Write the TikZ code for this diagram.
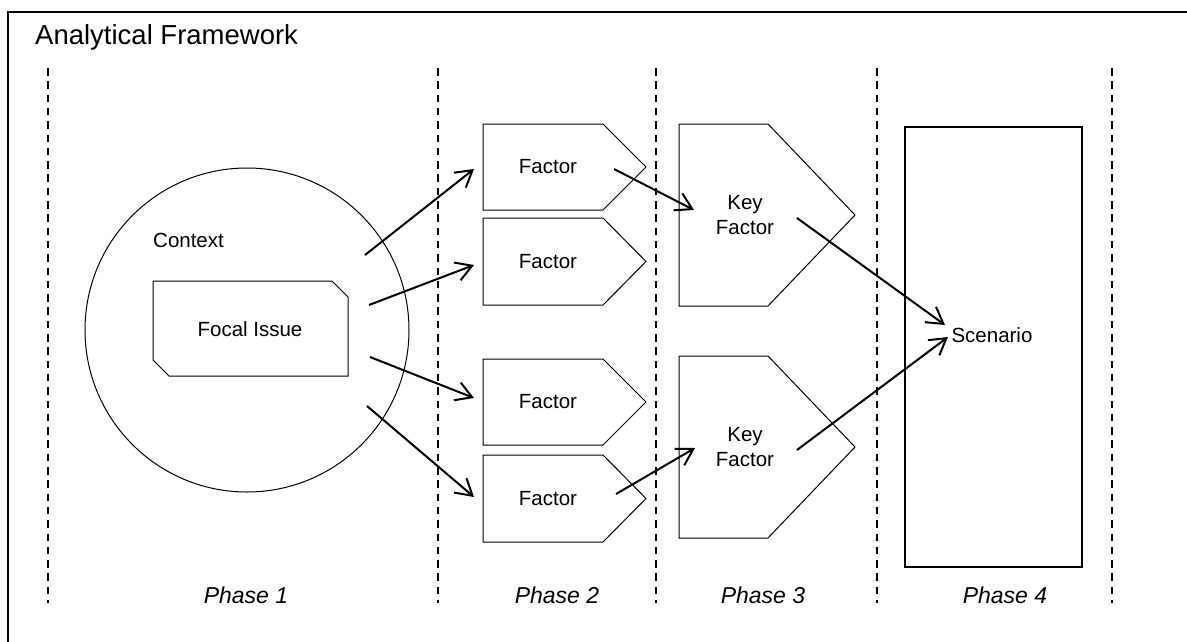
\documentclass[tikz,border=0pt]{standalone}
\usepackage{fontspec}
\setmainfont{Liberation Sans}
\usetikzlibrary{arrows.meta}
\begin{document}
\begin{tikzpicture}[x=1pt,y=-1pt,
  outline/.style={draw=black, line width=1pt, line join=miter},
  phaserule/.style={draw=black, line width=2pt, dash pattern=on 7.5pt off 5.8pt},
  flow/.style={draw=black, line width=2pt,
    -{Straight Barb[length=16pt,width=19pt]}},
  boxlabel/.style={font=\fontsize{20.5}{25}\selectfont, align=center, inner sep=0pt},
  phaselabel/.style={font=\fontsize{23}{27}\selectfont\itshape, anchor=base, inner sep=0pt},
]
\useasboundingbox (0,0) rectangle (1187,641);
\clip (0,0) rectangle (1187,641);

% outer frame (runs past the page on the right and bottom)
\draw[line width=2pt] (8,12) rectangle (1220,680);
\node[font=\fontsize{27.5}{32}\selectfont, anchor=base west, inner sep=0pt] (title) at (35,44) {Analytical Framework};

% phase separators
\foreach \px in {48,438,656,877,1112}
  \draw[phaserule] (\px,68) -- (\px,603);

% phase 1: context and focal issue
\draw[outline] (247,330) circle[radius=162];
\node[boxlabel, anchor=west] (context) at (153,240) {Context};
\draw[outline] (153,281) -- (332,281) -- (348,297) -- (348,376) -- (169,376) -- (153,360) -- cycle;
\node[boxlabel] (focal) at (250,329) {Focal Issue};

% phase 2: factors
\draw[outline] (483,124) -- (603,124) -- (646,167) -- (603,210) -- (483,210) -- cycle;
\draw[outline] (483,218) -- (603,218) -- (646,261.5) -- (603,305) -- (483,305) -- cycle;
\draw[outline] (483,359) -- (603,359) -- (646,402) -- (603,445) -- (483,445) -- cycle;
\draw[outline] (483,455) -- (603,455) -- (646,498.5) -- (603,542) -- (483,542) -- cycle;
\node[boxlabel] (f1) at (548,167) {Factor};
\node[boxlabel] (f2) at (548,261.5) {Factor};
\node[boxlabel] (f3) at (548,402) {Factor};
\node[boxlabel] (f4) at (548,498.5) {Factor};

% phase 3: key factors
\draw[outline] (679,124) -- (768,124) -- (855,215) -- (768,306) -- (679,306) -- cycle;
\draw[outline] (679,356) -- (768,356) -- (855,447) -- (768,538) -- (679,538) -- cycle;
\node[boxlabel] (k1) at (745,215) {Key\\Factor};
\node[boxlabel] (k2) at (745,447) {Key\\Factor};

% phase 4: scenario
\draw[line width=1.7pt] (905,127) rectangle (1082,567);
\node[boxlabel] (scen) at (992,335) {Scenario};

% connector end points
\coordinate (c1) at (365,255);
\coordinate (c2) at (369,305);
\coordinate (c3) at (370,357);
\coordinate (c4) at (367,406);
\coordinate (f1in) at (474,169);
\coordinate (f2in) at (474,265);
\coordinate (f3in) at (474,398);
\coordinate (f4in) at (474,497);
\coordinate (f1out) at (614,169);
\coordinate (f4out) at (616,494);
\coordinate (k1in) at (694,210);
\coordinate (k2in) at (695,448);
\coordinate (k1out) at (797,218);
\coordinate (k2out) at (797,450);
\coordinate (s1in) at (945,325);
\coordinate (s2in) at (948,337);

\draw[flow] (c1) -- (f1in);
\draw[flow] (c2) -- (f2in);
\draw[flow] (c3) -- (f3in);
\draw[flow] (c4) -- (f4in);
\draw[flow] (f1out) -- (k1in);
\draw[flow] (f4out) -- (k2in);
\draw[flow] (k1out) -- (s1in);
\draw[flow] (k2out) -- (s2in);

% phase captions
\node[phaselabel] (p1) at (246,603) {Phase 1};
\node[phaselabel] (p2) at (557,603) {Phase 2};
\node[phaselabel] (p3) at (763,603) {Phase 3};
\node[phaselabel] (p4) at (1005,603) {Phase 4};
\end{tikzpicture}
\end{document}
